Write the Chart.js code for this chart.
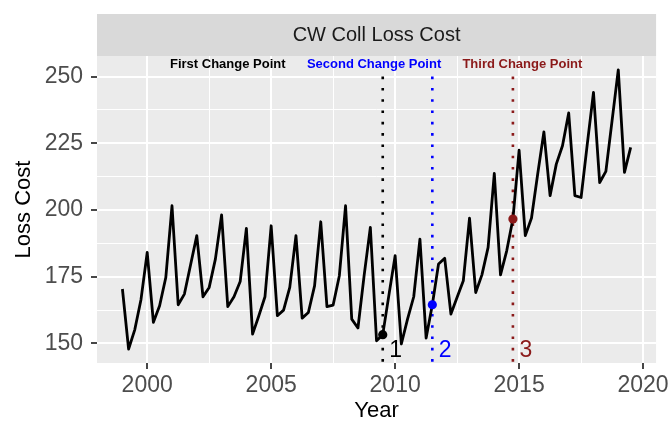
<!DOCTYPE html>
<html>
<head>
<meta charset="utf-8">
<script src="https://cdn.jsdelivr.net/npm/chart.js@4.4.1/dist/chart.umd.min.js"></script>
<style>
  html, body { margin: 0; padding: 0; background: #fff; }
  #wrap { width: 672px; height: 426px; }
</style>
</head>
<body>
<div id="wrap"><canvas id="chart" width="672" height="426"></canvas></div>
<script>
// Quarterly loss cost series
const quarters = [
    1999.00, 1999.25, 1999.50, 1999.75,
    2000.00, 2000.25, 2000.50, 2000.75,
    2001.00, 2001.25, 2001.50, 2001.75,
    2002.00, 2002.25, 2002.50, 2002.75,
    2003.00, 2003.25, 2003.50, 2003.75,
    2004.00, 2004.25, 2004.50, 2004.75,
    2005.00, 2005.25, 2005.50, 2005.75,
    2006.00, 2006.25, 2006.50, 2006.75,
    2007.00, 2007.25, 2007.50, 2007.75,
    2008.00, 2008.25, 2008.50, 2008.75,
    2009.00, 2009.25, 2009.50, 2009.75,
    2010.00, 2010.25, 2010.50, 2010.75,
    2011.00, 2011.25, 2011.50, 2011.75,
    2012.00, 2012.25, 2012.50, 2012.75,
    2013.00, 2013.25, 2013.50, 2013.75,
    2014.00, 2014.25, 2014.50, 2014.75,
    2015.00, 2015.25, 2015.50, 2015.75,
    2016.00, 2016.25, 2016.50, 2016.75,
    2017.00, 2017.25, 2017.50, 2017.75,
    2018.00, 2018.25, 2018.50, 2018.75,
    2019.00, 2019.25, 2019.50
];
const lossCost = [
    170.4, 147.9, 155.2, 166.5,
    184.1, 157.9, 164.1, 174.7,
    201.6, 164.5, 168.5, 179.5,
    190.4, 167.5, 171.0, 181.6,
    198.2, 163.8, 167.5, 173.2,
    193.1, 153.5, 160.3, 167.5,
    194.1, 160.4, 162.5, 171.0,
    190.4, 159.5, 161.6, 171.6,
    195.6, 163.8, 164.4, 175.4,
    201.6, 159.1, 155.8, 175.5,
    193.5, 151.0, 153.3, 168.2,
    182.9, 149.8, 159.1, 167.5,
    189.1, 152.0, 164.5, 179.8,
    181.9, 161.0, 167.3, 173.5,
    197.0, 169.1, 175.7, 186.0,
    213.7, 175.7, 184.7, 196.6,
    222.4, 190.4, 197.0, 213.5,
    229.3, 205.4, 217.2, 224.1,
    236.4, 205.4, 204.7, 224.7,
    244.1, 210.3, 214.5, 233.5,
    252.5, 214.1, 223.5
];

// Change points
const changePoints = [2009.5, 2011.5, 2014.75];
const changeValues = [153.3, 164.5, 196.6];
const changeNumbers = ['1', '2', '3'];
const changeTitles = ['First Change Point', 'Second Change Point', 'Third Change Point'];
const changeTitleX = [2003.25, 2009.15, 2015.13];
const changeColors = ['#000000', '#0000FF', '#8B1A1A'];

// Axes
const xTicks = [2000, 2005, 2010, 2015, 2020];
const xGrid = [2000, 2002.5, 2005, 2007.5, 2010, 2012.5, 2015, 2017.5, 2020];
const yTicks = [150, 175, 200, 225, 250];
const yGrid = [150, 162.5, 175, 187.5, 200, 212.5, 225, 237.5, 250];

const FONT = '"Liberation Sans", Arial, Helvetica, sans-serif';
Chart.defaults.font.family = FONT;

// ggplot-like 5% expansion around the data
const xSpan = quarters[quarters.length - 1] - quarters[0];
const xMin = quarters[0] - xSpan * 0.05;
const xMax = quarters[quarters.length - 1] + xSpan * 0.05;
const ySpan = Math.max(...lossCost) - Math.min(...lossCost);
const yMin = Math.min(...lossCost) - ySpan * 0.05;
const yMax = Math.max(...lossCost) + ySpan * 0.05;

const datasets = [];
datasets.push({
    type: 'line',
    data: quarters.map((q, i) => ({ x: q, y: lossCost[i] })),
    borderColor: '#000000',
    borderWidth: 2.8,
    borderJoinStyle: 'round',
    pointRadius: 0,
    tension: 0,
    order: 1
});
changePoints.forEach((cp, i) => {
    // dotted vertical marker
    datasets.push({
        type: 'line',
        data: [{ x: cp, y: 250 }, { x: cp, y: yMin }],
        borderColor: changeColors[i],
        borderWidth: 2.6,
        borderDash: [2.6, 8.7],
        borderCapStyle: 'butt',
        pointRadius: 0,
        order: 2
    });
    datasets.push({
        type: 'scatter',
        data: [{ x: cp, y: changeValues[i] }],
        backgroundColor: changeColors[i],
        borderWidth: 0,
        pointRadius: 4.6,
        order: 0
    });
});

const panelPlugin = {
    id: 'panel',
    beforeDraw(chart) {
        const { ctx, chartArea: a } = chart;
        ctx.save();
        ctx.fillStyle = '#EBEBEB';
        ctx.fillRect(a.left, a.top, a.right - a.left, a.bottom - a.top);
        // facet strip
        ctx.fillStyle = '#D9D9D9';
        ctx.fillRect(a.left, 14, a.right - a.left, a.top - 14);
        ctx.fillStyle = '#1A1A1A';
        ctx.font = '20px ' + FONT;
        ctx.textAlign = 'center';
        ctx.textBaseline = 'middle';
        ctx.fillText('CW Coll Loss Cost', (a.left + a.right) / 2, (14 + a.top) / 2);
        ctx.restore();
    },
    afterDatasetsDraw(chart) {
        const { ctx, scales } = chart;
        ctx.save();
        ctx.textAlign = 'center';
        ctx.textBaseline = 'middle';
        changePoints.forEach((cp, i) => {
            ctx.fillStyle = changeColors[i];
            ctx.font = 'bold 13px ' + FONT;
            ctx.fillText(changeTitles[i], scales.x.getPixelForValue(changeTitleX[i]), scales.y.getPixelForValue(254.5));
            ctx.font = '23px ' + FONT;
            ctx.fillText(changeNumbers[i], scales.x.getPixelForValue(cp + 0.52), scales.y.getPixelForValue(147.3));
        });
        ctx.restore();
    }
};

new Chart(document.getElementById('chart'), {
    data: { datasets },
    plugins: [panelPlugin],
    options: {
        responsive: false,
        animation: false,
        layout: { padding: { top: 56, right: 15, left: 0, bottom: 0 } },
        plugins: { legend: { display: false }, tooltip: { enabled: false } },
        scales: {
            x: {
                type: 'linear',
                min: xMin,
                max: xMax,
                afterBuildTicks: s => { s.ticks = xGrid.map(v => ({ value: v })); },
                afterFit: s => { s.height = 63; },
                border: { display: false },
                grid: {
                    color: '#FFFFFF',
                    lineWidth: c => xTicks.includes(c.tick && c.tick.value) ? 2 : 1,
                    tickColor: c => xTicks.includes(c.tick && c.tick.value) ? '#333333' : 'rgba(0,0,0,0)',
                    tickWidth: 1.8,
                    tickLength: 6
                },
                ticks: {
                    autoSkip: false,
                    maxRotation: 0,
                    padding: 3,
                    color: '#4D4D4D',
                    font: { size: 23 },
                    callback: v => xTicks.includes(v) ? String(v) : ''
                },
                title: {
                    display: true,
                    text: 'Year',
                    color: '#000000',
                    font: { size: 22 },
                    padding: { top: 0, bottom: 2 }
                }
            },
            y: {
                type: 'linear',
                min: yMin,
                max: yMax,
                afterBuildTicks: s => { s.ticks = yGrid.map(v => ({ value: v })); },
                afterFit: s => { s.width = 97; },
                border: { display: false },
                grid: {
                    color: '#FFFFFF',
                    lineWidth: c => yTicks.includes(c.tick && c.tick.value) ? 2 : 1,
                    tickColor: c => yTicks.includes(c.tick && c.tick.value) ? '#333333' : 'rgba(0,0,0,0)',
                    tickWidth: 1.8,
                    tickLength: 6
                },
                ticks: {
                    autoSkip: false,
                    padding: 8,
                    color: '#4D4D4D',
                    font: { size: 23 },
                    callback: v => yTicks.includes(v) ? String(v) : ''
                },
                title: {
                    display: true,
                    text: 'Loss Cost',
                    color: '#000000',
                    font: { size: 22 },
                    padding: { top: 11, bottom: 0 }
                }
            }
        }
    }
});
</script>
</body>
</html>
